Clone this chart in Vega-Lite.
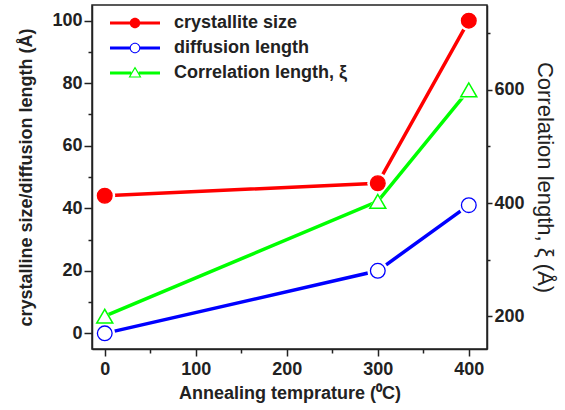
{
  "$schema": "https://vega.github.io/schema/vega-lite/v6.json",
  "width": 395,
  "height": 344,
  "autosize": "none",
  "padding": {"left": 92, "top": 5, "right": 78, "bottom": 61},
  "background": "white",
  "config": {
    "view": {"stroke": "#222", "strokeWidth": 1.5},
    "font": "Liberation Sans",
    "axis": {
      "grid": false,
      "domainColor": "#222",
      "domainWidth": 1.5,
      "tickColor": "#222",
      "tickWidth": 1.5,
      "labelColor": "#222",
      "titleColor": "#222",
      "labelFont": "Liberation Sans",
      "titleFont": "Liberation Sans",
      "labelFontSize": 18,
      "labelFontWeight": "bold",
      "titleFontSize": 18,
      "titleFontWeight": "bold"
    }
  },
  "data": {
    "values": [
      {"T": 0, "series": "crystallite size", "v": 44},
      {"T": 300, "series": "crystallite size", "v": 48},
      {"T": 400, "series": "crystallite size", "v": 100},
      {"T": 0, "series": "diffusion length", "v": 0},
      {"T": 300, "series": "diffusion length", "v": 20},
      {"T": 400, "series": "diffusion length", "v": 41},
      {"T": 0, "series": "Correlation length, ξ", "v": 200},
      {"T": 300, "series": "Correlation length, ξ", "v": 403},
      {"T": 400, "series": "Correlation length, ξ", "v": 600}
    ]
  },
  "encoding": {
    "x": {
      "field": "T",
      "type": "quantitative",
      "scale": {"domain": [-14, 420], "nice": false, "zero": false},
      "axis": {
        "title": "Annealing temprature (⁰C)",
        "values": [0, 50, 100, 150, 200, 250, 300, 350, 400],
        "labelExpr": "datum.value % 100 === 0 ? datum.label : ''",
        "tickSize": {"condition": {"test": "datum.value % 100 !== 0", "value": 4}, "value": 7},
        "labelPadding": 4,
        "titlePadding": 6
      }
    }
  },
  "layer": [
    {
      "transform": [{"filter": "false"}],
      "mark": {"type": "point", "filled": true, "strokeWidth": 0, "opacity": 1},
      "encoding": {
        "shape": {
          "field": "series",
          "type": "nominal",
          "scale": {
            "domain": ["crystallite size", "diffusion length", "Correlation length, ξ"],
            "range": [
              "M-1,-0.06H-0.2V0.06H-1Z M0.2,-0.06H1V0.06H0.2Z M0.21,0A0.21,0.21,0,1,1,-0.21,0A0.21,0.21,0,1,1,0.21,0Z",
              "M-1,-0.06H-0.2V0.06H-1Z M0.2,-0.06H1V0.06H0.2Z M0.21,0A0.21,0.21,0,1,1,-0.21,0A0.21,0.21,0,1,1,0.21,0Z M0.17,0A0.17,0.17,0,1,0,-0.17,0A0.17,0.17,0,1,0,0.17,0Z",
              "M-1,-0.06H-0.15V0.06H-1Z M0.15,-0.06H1V0.06H0.15Z M0,-0.26L0.26,0.18L-0.26,0.18Z M0,-0.171L-0.181,0.135L0.181,0.135Z"
            ]
          },
          "legend": {
            "title": null,
            "orient": "none",
            "legendX": 18,
            "legendY": 9,
            "padding": 0,
            "symbolSize": 2500,
            "symbolStrokeWidth": 0,
            "symbolOpacity": 1,
            "symbolOffset": 0,
            "labelOffset": 14,
            "clipHeight": 18,
            "rowPadding": 7,
            "labelLimit": 400,
            "labelFont": "Liberation Sans",
            "labelFontSize": 18,
            "labelFontWeight": "bold",
            "labelColor": "#222"
          }
        },
        "fill": {
          "field": "series",
          "type": "nominal",
          "scale": {"domain": ["crystallite size", "diffusion length", "Correlation length, ξ"], "range": ["#ff0000", "#0000ff", "#00ff00"]}
        }
      }
    },
    {
      "transform": [{"filter": "datum.series !== 'Correlation length, ξ'"}],
      "encoding": {
        "y": {
          "field": "v",
          "type": "quantitative",
          "scale": {"domain": [-5, 105], "nice": false, "zero": false},
          "axis": {
            "orient": "left",
            "title": "crystalline size/diffusion length (Å)",
            "values": [0, 10, 20, 30, 40, 50, 60, 70, 80, 90, 100],
            "labelExpr": "datum.value % 20 === 0 ? datum.label : ''",
            "tickSize": {"condition": {"test": "datum.value % 20 !== 0", "value": 4}, "value": 8},
            "labelPadding": 2,
            "titlePadding": 16
          }
        }
      },
      "layer": [
        {
          "mark": {"type": "line", "strokeWidth": 3.5, "strokeCap": "butt"},
          "encoding": {
            "stroke": {
              "field": "series",
              "type": "nominal",
              "scale": {"domain": ["crystallite size", "diffusion length", "Correlation length, ξ"], "range": ["#ff0000", "#0000ff", "#00ff00"]},
              "legend": null
            }
          }
        },
        {
          "mark": {"type": "point", "filled": true, "color": "white", "size": 441, "opacity": 1, "strokeWidth": 0},
          "encoding": {
            "shape": {
              "field": "series",
              "type": "nominal",
              "scale": {"domain": ["crystallite size", "diffusion length", "Correlation length, ξ"], "range": ["circle", "circle", "triangle-up"]},
              "legend": null
            }
          }
        },
        {
          "mark": {"type": "point", "filled": true, "size": 216, "strokeWidth": 1.3, "opacity": 1},
          "encoding": {
            "shape": {"field": "series", "type": "nominal", "legend": null},
            "fill": {
              "field": "series",
              "type": "nominal",
              "scale": {"domain": ["crystallite size", "diffusion length", "Correlation length, ξ"], "range": ["#ff0000", "#ffffff", "#ffffff"]},
              "legend": null
            },
            "stroke": {"field": "series", "type": "nominal", "legend": null}
          }
        }
      ]
    },
    {
      "transform": [{"filter": "datum.series === 'Correlation length, ξ'"}],
      "encoding": {
        "y": {
          "field": "v",
          "type": "quantitative",
          "scale": {"domain": [142, 750], "nice": false, "zero": false},
          "axis": {
            "orient": "right",
            "title": "Correlation length, ξ (Å)",
            "titleFontWeight": "normal",
            "titleFontSize": 22,
            "values": [200, 300, 400, 500, 600, 700],
            "labelExpr": "datum.value % 200 === 0 ? datum.label : ''",
            "tickSize": {"condition": {"test": "datum.value % 200 !== 0", "value": 3}, "value": 5},
            "labelPadding": 2,
            "titlePadding": 8
          }
        }
      },
      "layer": [
        {
          "mark": {"type": "line", "strokeWidth": 3.5, "strokeCap": "butt"},
          "encoding": {
            "stroke": {
              "field": "series",
              "type": "nominal",
              "scale": {"domain": ["crystallite size", "diffusion length", "Correlation length, ξ"], "range": ["#ff0000", "#0000ff", "#00ff00"]},
              "legend": null
            }
          }
        },
        {
          "mark": {"type": "point", "filled": true, "color": "white", "size": 400, "opacity": 1, "strokeWidth": 0},
          "encoding": {
            "shape": {
              "field": "series",
              "type": "nominal",
              "scale": {"domain": ["crystallite size", "diffusion length", "Correlation length, ξ"], "range": ["circle", "circle", "triangle-up"]},
              "legend": null
            }
          }
        },
        {
          "mark": {"type": "point", "filled": true, "size": 256, "strokeWidth": 1.5, "opacity": 1},
          "encoding": {
            "shape": {"field": "series", "type": "nominal", "legend": null},
            "fill": {
              "field": "series",
              "type": "nominal",
              "scale": {"domain": ["crystallite size", "diffusion length", "Correlation length, ξ"], "range": ["#ff0000", "#ffffff", "#ffffff"]},
              "legend": null
            },
            "stroke": {"field": "series", "type": "nominal", "legend": null}
          }
        }
      ]
    }
  ],
  "resolve": {"scale": {"y": "independent", "shape": "independent", "fill": "independent", "stroke": "independent"}}
}
